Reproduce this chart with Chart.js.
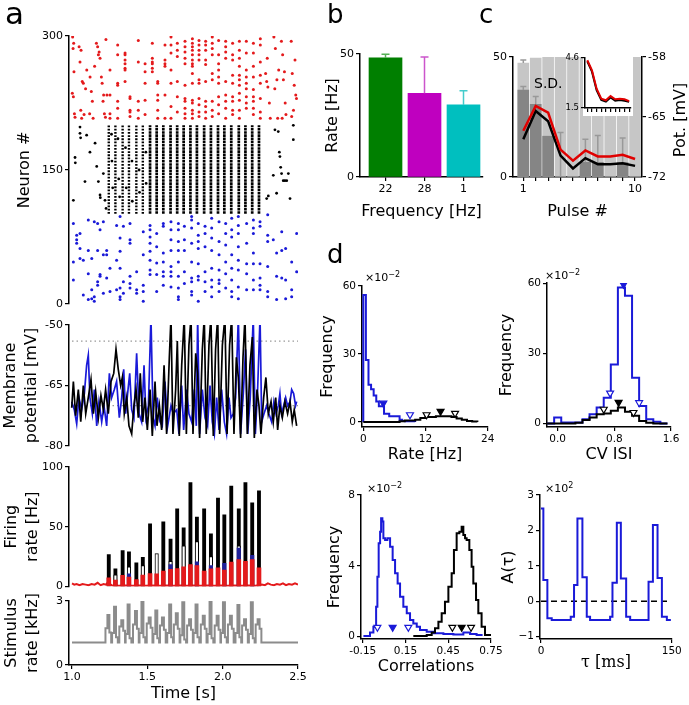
<!DOCTYPE html>
<html>
<head>
<meta charset="utf-8">
<script src="https://cdn.jsdelivr.net/npm/chart.js@4.4.1/dist/chart.umd.min.js"></script>
<style>
  body { margin: 0; width: 689px; height: 705px; position: relative; overflow: hidden; background: #fff;
         font-family: "DejaVu Sans", sans-serif; }
  canvas { position: absolute; }
  .lbl { position: absolute; color: #000; white-space: nowrap; line-height: 1; z-index: 10; }
  .lbl sup { font-size: 8px; vertical-align: 4px; }
</style>
</head>
<body>
<div class="lbl" style="left:5px;top:-2px;font-size:31px">a</div>
<div class="lbl" style="left:327px;top:1px;font-size:26px">b</div>
<div class="lbl" style="left:479px;top:1px;font-size:26px">c</div>
<div class="lbl" style="left:327px;top:241px;font-size:26px">d</div>
<div class="lbl" style="left:534px;top:76px;font-size:14px">S.D.</div>
<div class="lbl" style="left:680px;top:120px;font-size:16px;transform:translate(-50%,-50%) rotate(-90deg)">Pot. [mV]</div>
<div class="lbl" style="left:365px;top:271px;font-size:11px">×10<sup>−2</sup></div>
<div class="lbl" style="left:545px;top:269px;font-size:11px">×10<sup>−2</sup></div>
<div class="lbl" style="left:367px;top:482px;font-size:11px">×10<sup>−2</sup></div>
<div class="lbl" style="left:545px;top:482px;font-size:11px">×10<sup>2</sup></div>

<script>
// ---------- panel a : raster ----------
// stimulus pulse times (s), shared by raster stripes, firing rate and stimulus
const pulseT = [1.244, 1.288, 1.336, 1.378, 1.427, 1.470, 1.518, 1.562, 1.606, 1.654, 1.698, 1.741, 1.786,
                1.829, 1.877, 1.922, 1.969, 2.011, 2.057, 2.107, 2.151, 2.196, 2.241];
const stripeLo = 101, stripeHi = 200;

// sparse red spikes before / after stimulation [t, neuron]
const redSparse = [
  [1.004, 299], [1.011, 292], [1.007, 286], [1.013, 260], [1.002, 236], [1.009, 232], [1.016, 213], [1.020, 209],
  [1.047, 288], [1.060, 284], [1.053, 271], [1.068, 249], [1.075, 247], [1.058, 217], [1.080, 212], [1.064, 208],
  [1.120, 254], [1.128, 238], [1.135, 227], [1.117, 213], [1.140, 208], [1.098, 262], [1.090, 241],
  [1.162, 292], [1.170, 288], [1.180, 282], [1.175, 279], [1.186, 275], [1.195, 254], [1.200, 247],
  [1.210, 234], [1.206, 227], [1.215, 213], [1.222, 209], [1.232, 234], [1.150, 266], [1.225, 296],
  [2.285, 258], [2.292, 249], [2.300, 243], [2.310, 225], [2.316, 208], [2.296, 275],
  [2.340, 299], [2.350, 286], [2.360, 251], [2.346, 241], [2.365, 208], [2.372, 262],
  [2.390, 294], [2.398, 279], [2.410, 260], [2.403, 251], [2.415, 225], [2.420, 212], [2.395, 208],
  [2.455, 294], [2.480, 273], [2.462, 258], [2.475, 245], [2.485, 234], [2.490, 230], [2.470, 217], [2.458, 210]
];
// red spike columns during stimulation [t, neurons]
const redCols = [
  [1.252, [213, 208, 234, 262]], [1.303, [290, 279, 247, 245, 227, 219, 208]],
  [1.352, [281, 279, 273, 269, 264, 262, 249]], [1.385, [232, 230, 217, 215, 210]],
  [1.440, [295, 271, 227, 217, 208]], [1.485, [269, 260, 247, 228, 212]],
  [1.533, [292, 275, 271, 269, 264, 260]], [1.569, [249, 247, 234, 228, 217, 208]],
  [1.617, [290, 273, 269, 266, 234, 208]], [1.657, [299, 290, 281, 262, 247, 221, 208]],
  [1.699, [292, 284, 277, 249, 232, 215]], [1.750, [294, 288, 282, 275, 269, 245, 230, 227, 219, 213, 208]],
  [1.799, [297, 292, 288, 284, 279, 273, 269, 266, 258, 247, 228, 225, 217, 213, 208]],
  [1.843, [295, 290, 284, 279, 273, 251, 247, 230, 223, 215, 210]],
  [1.887, [294, 290, 284, 273, 268, 249, 227, 221, 215, 208]],
  [1.931, [299, 292, 286, 279, 258, 251, 227, 217, 210]],
  [1.973, [295, 279, 269, 262, 254, 247, 232, 223, 213]],
  [2.020, [294, 288, 282, 275, 249, 234, 227, 219, 208]],
  [2.066, [292, 279, 273, 256, 247, 232, 227, 217, 212]],
  [2.111, [294, 284, 275, 266, 256, 251, 245, 236, 228, 217, 208]],
  [2.157, [294, 281, 262, 254, 247, 241, 232, 225, 219]],
  [2.204, [292, 281, 266, 254, 240, 232, 227, 219, 212]],
  [2.250, [297, 290, 271, 256, 247, 230, 215, 208]]
];
// blue spike columns [t, neurons]
const blueCols = [
  [1.009, [90, 47, 27]], [1.031, [77, 72, 68]], [1.053, [79, 62, 51]], [1.075, [49, 10]],
  [1.108, [94, 60, 34, 5]], [1.131, [51, 16, 6]], [1.148, [92, 8, 3]], [1.170, [90, 60, 25, 21]],
  [1.186, [83, 33, 31]], [1.208, [92, 55, 12]], [1.230, [60, 55, 29]], [1.252, [40, 14]],
  [1.296, [88, 49, 16]], [1.319, [98, 74, 59, 40, 18, 8, 5]], [1.341, [87, 25, 12]],
  [1.385, [90, 72, 68, 31, 23, 18]], [1.429, [36, 16, 12]], [1.473, [81, 55, 21, 14, 3]],
  [1.518, [88, 83, 75, 68, 59, 49, 38, 33]], [1.562, [79, 64, 46, 33, 14]],
  [1.606, [90, 87, 57, 47, 36, 31, 21]], [1.657, [92, 83, 72, 60, 42, 36, 31, 19]],
  [1.706, [90, 83, 70, 60, 47, 31, 18, 8, 5]], [1.746, [87, 72, 60, 36, 23]],
  [1.794, [98, 94, 85, 68, 47, 29, 25, 14, 10]], [1.838, [90, 77, 70, 62, 45, 31, 27, 3]],
  [1.883, [87, 79, 64, 36, 25, 14]], [1.927, [96, 85, 74, 60, 40, 27, 19, 8]],
  [1.976, [92, 70, 55, 38, 27, 23, 14]], [2.020, [90, 79, 66, 47, 34, 18]],
  [2.060, [96, 83, 75, 55, 40, 27, 14, 8]], [2.104, [98, 88, 79, 64, 49, 38, 19, 6]],
  [2.159, [90, 68, 45, 34, 16]], [2.204, [94, 85, 79, 57, 45, 27, 16]],
  [2.248, [92, 87, 45, 29, 21, 16]], [2.299, [100, 77, 70, 42, 14, 8]], [2.336, [72]],
  [2.358, [57, 31, 5]], [2.392, [81, 60, 29]], [2.418, [62, 27, 6]], [2.458, [47, 16, 8]], [2.491, [79, 36]]
];
// scattered black spikes outside the synchronous stripes [t, neuron]
const blackSparse = [
  [1.009, 116], [1.020, 164], [1.022, 158], [1.053, 198], [1.053, 191], [1.057, 186], [1.086, 137],
  [1.097, 189], [1.119, 170], [1.153, 180], [1.164, 154], [1.175, 137], [1.186, 122], [1.188, 119],
  [1.208, 146], [1.219, 116], [1.226, 107], [1.262, 190], [1.265, 160], [1.270, 130], [1.305, 185],
  [1.310, 140], [1.316, 120], [1.355, 175], [1.360, 130], [1.398, 160], [1.400, 115], [1.445, 150],
  [1.448, 125], [1.490, 170], [1.492, 135],
  [2.292, 118], [2.303, 121], [2.336, 144], [2.347, 195], [2.358, 124], [2.369, 193], [2.376, 170],
  [2.380, 165], [2.385, 153], [2.391, 146], [2.402, 138], [2.413, 138], [2.425, 138], [2.436, 146],
  [2.447, 118], [2.469, 200], [2.469, 184]
];
const rasterTicks = [0, 150, 300], rasterTickLabels = ['0', '150', '300'];

// ---------- panel a : membrane potential [t, mV] ----------
const vmBlack = [
  [0.998, -70.5], [1.009, -64], [1.024, -72.5], [1.042, -66], [1.058, -74], [1.075, -65], [1.091, -72],
  [1.108, -68], [1.126, -63.5], [1.142, -72], [1.157, -66.5], [1.175, -73], [1.192, -67.5], [1.208, -71],
  [1.223, -66], [1.241, -72], [1.259, -64], [1.277, -62], [1.292, -56], [1.307, -61], [1.323, -65],
  [1.334, -63], [1.347, -72], [1.363, -68], [1.378, -75], [1.396, -77], [1.411, -70], [1.425, -66],
  [1.440, -73], [1.453, -62], [1.469, -74], [1.484, -68], [1.500, -76], [1.518, -66], [1.533, -77.5],
  [1.551, -64], [1.564, -75], [1.580, -70], [1.595, -76], [1.611, -60], [1.628, -77], [1.646, -58],
  [1.657, -48], [1.670, -77], [1.688, -66], [1.699, -54], [1.712, -77.5], [1.728, -60], [1.745, -48],
  [1.759, -77], [1.776, -55], [1.790, -48], [1.803, -77], [1.821, -57], [1.834, -62], [1.847, -78],
  [1.865, -56], [1.878, -48], [1.891, -77], [1.909, -55], [1.922, -48], [1.938, -77.5], [1.953, -56],
  [1.967, -48], [1.980, -77], [1.998, -55], [2.015, -48], [2.029, -77], [2.046, -55], [2.060, -48],
  [2.075, -77], [2.091, -58], [2.104, -63], [2.119, -78], [2.135, -58], [2.148, -48], [2.164, -77],
  [2.181, -60], [2.197, -53], [2.210, -78], [2.228, -66], [2.241, -70], [2.254, -77], [2.272, -68],
  [2.287, -63], [2.303, -72], [2.321, -69], [2.336, -74], [2.352, -68], [2.365, -76], [2.380, -70],
  [2.396, -73], [2.413, -69], [2.431, -72], [2.447, -69], [2.462, -74], [2.475, -71], [2.491, -75]
];
const vmBlue = [
  [0.998, -69], [1.015, -71], [1.031, -74.5], [1.046, -68], [1.064, -71], [1.082, -67], [1.097, -60],
  [1.108, -57.5], [1.119, -68], [1.135, -72], [1.148, -66], [1.164, -75], [1.179, -69], [1.197, -74],
  [1.212, -70], [1.230, -75], [1.248, -62], [1.263, -68], [1.281, -66], [1.296, -64], [1.314, -73],
  [1.330, -68], [1.343, -61], [1.356, -72], [1.369, -67], [1.383, -62], [1.396, -71], [1.411, -73],
  [1.429, -57], [1.445, -72], [1.462, -74], [1.478, -60], [1.491, -73], [1.507, -70], [1.524, -48],
  [1.538, -73], [1.551, -75], [1.566, -68], [1.584, -74], [1.599, -75], [1.617, -64], [1.635, -75],
  [1.657, -70], [1.672, -72], [1.695, -71], [1.710, -77], [1.728, -65], [1.741, -76], [1.761, -66],
  [1.776, -72], [1.794, -74], [1.812, -66], [1.825, -75], [1.834, -48], [1.847, -77], [1.865, -66],
  [1.883, -73], [1.900, -75], [1.916, -65], [1.931, -74], [1.945, -77], [1.960, -68], [1.976, -76],
  [1.993, -66], [2.011, -74], [2.026, -77], [2.042, -68], [2.055, -73], [2.071, -72], [2.086, -68],
  [2.104, -48], [2.119, -77], [2.137, -67], [2.152, -56], [2.166, -77], [2.183, -68], [2.203, -48],
  [2.217, -77], [2.232, -66], [2.248, -48], [2.259, -74], [2.274, -72], [2.292, -70], [2.307, -72],
  [2.325, -74], [2.340, -69], [2.354, -72], [2.369, -70], [2.380, -67], [2.391, -72], [2.405, -70],
  [2.418, -68], [2.431, -70], [2.447, -69], [2.458, -66], [2.471, -67], [2.484, -70], [2.491, -69]
];
const vmRefLines = [-54, -70];
const vmTicks = [-80, -65, -50], vmTickLabels = ['-80', '-65', '-50'];

// ---------- panel a : firing rate per pulse (Hz) ----------
const rateBlack = [26.7, 14.7, 30, 28.9, 19.7, 24.4, 52.5, 0, 54, 39.7, 65, 49, 87, 58, 65, 44, 74, 60, 84, 65, 87, 70, 80];
const rateOpen  = [0, 9.7, 0, 16.4, 0, 17.5, 0, 27.5, 0, 21, 0, 34, 0, 37.5, 0, 25, 0, 0, 0, 34, 0, 0, 0];
const rateBlue  = [0, 0, 0, 10.5, 0, 0, 0, 0, 0, 18.3, 0, 0, 0, 20.5, 0, 17.5, 0, 19.4, 0, 32, 0, 26, 0];
const rateRed   = [7.2, 5.3, 9.2, 7.8, 5.8, 9.4, 10.8, 10.5, 12.8, 14.2, 15, 16.4, 18.3, 17.5, 12.8, 14.7,
                   15.6, 13.6, 20.3, 22.5, 21, 22.5, 15.6];
const redLineT = [1.0, 1.015, 1.03, 1.05, 1.07, 1.09, 1.11, 1.13, 1.15, 1.17, 1.19, 1.21, 1.225, 1.236,
                  1.266, 1.31, 1.356, 1.40, 1.446, 1.49, 1.538, 1.584, 1.63, 1.675, 1.718, 1.762, 1.806,
                  1.852, 1.90, 1.945, 1.987, 2.031, 2.08, 2.126, 2.172, 2.218,
                  2.26, 2.28, 2.30, 2.32, 2.34, 2.36, 2.38, 2.40, 2.42, 2.44, 2.46, 2.48, 2.50];
const redLineV = [2.5, 1.5, 2, 1, 2, 1.5, 1, 2, 1.5, 3, 1, 2, 1.5, 3,
                  0.8, 0.6, 0.8, 0.6, 0.8, 0.6, 0.8, 0.6, 0.8, 0.6, 0.8, 0.6, 0.8,
                  0.6, 0.8, 0.6, 0.8, 0.6, 0.8, 0.6, 0.8, 0.6,
                  1.5, 1, 2.5, 1.5, 1, 2, 1.5, 2.5, 1, 2, 1.5, 2.5, 1.5];
const rateTicks = [0, 50, 100], rateTickLabels = ['0', '50', '100'];

// ---------- panel a : stimulus rate (kHz) ----------
const stimBase = 1.06;
const stimPeak = [2.34, 2.73, 2.1, 2.84, 2.53, 3.0, 2.23, 2.55, 2.23, 2.84, 2.42, 2.94, 2.14, 2.84, 2.31,
                  3.0, 2.31, 2.94, 2.31, 2.81, 2.14, 2.94, 2.14];
const stimShoulder = [1.72, 1.5, 1.8, 1.45, 1.9, 1.5, 1.95, 1.45, 1.85, 1.5, 1.9, 1.4, 1.85, 1.5, 1.9,
                      1.45, 1.85, 1.5, 1.9, 1.5, 1.85, 1.45, 1.9];
const stimTicks = [0, 3], stimTickLabels = ['0', '3'];
const timeTicks = [1.0, 1.5, 2.0, 2.5], timeTickLabels = ['1.0', '1.5', '2.0', '2.5'];

// ---------- panel b ----------
const freqLabels = ['22', '28', '1'];
const freqRate = [48.4, 34, 29.3];
const freqErr = [1.5, 14.8, 5.8];
const bTicks = [0, 50], bTickLabels = ['0', '50'];

// ---------- panel c ----------
const pulseNo = [1, 2, 3, 4, 5, 6, 7, 8, 9, 10];
const pulseLabels = ['1', '', '', '', '', '', '', '', '', '10'];
const sdLight = [47.5, 49.5, 50, 50, 50, 50, 50, 50, 50, 50];
const sdLightErr = [1.3, 0, 0, 0, 0, 0, 0, 0, 0, 0];
const sdDark = [36.2, 30.3, 17, 0, 0, 6.1, 6.1, 0, 6, 0];
const sdDarkErr = [1.5, 3.2, 0, 18.5, 0, 9.6, 11.2, 0, 10.3, 0];
const potRed = [-66.6, -63.7, -64.5, -68.8, -70.1, -68.9, -69.6, -69.6, -69.4, -69.9];
const potBlack = [-67.6, -64.3, -65.5, -69.5, -71, -69.8, -70.5, -70.5, -70.4, -70.7];
const insetRed = [4.46, 3.84, 2.7, 2.08, 1.98, 2.24, 2.04, 2.08, 2.04, 1.93];
const insetBlack = [4.4, 3.75, 2.6, 2.0, 1.9, 2.15, 1.95, 2.0, 1.95, 1.88];
const cTicks = [0, 50], cTickLabels = ['0', '50'];
const potTicks = [-72, -65, -58], potTickLabels = ['-72', '-65', '-58'];
const insetTicks = [1.5, 4.6], insetTickLabels = ['1.5', '4.6'];

// ---------- panel d : rate histogram ----------
const rateEdgesBlue = [0, 0.5, 1, 1.5, 2, 2.5, 3, 3.5, 4, 4.5, 5, 5.5, 6, 6.5, 7, 7.5, 8, 8.5, 9, 9.5, 10];
const rateHistBlue = [56, 27.4, 16.4, 14.5, 11.7, 9.1, 6.9, 6.9, 3.7, 3.7, 2.5, 2.5, 2.5, 2.5, 1.0, 0.5, 0.3, 0.3, 0.3, 0.3];
const rateEdgesBlack = [0, 7, 8, 9, 10, 11, 12, 13, 14, 15, 16, 17, 18, 19, 20, 21, 22];
const rateHistBlack = [0, 0.3, 0.7, 0.7, 1.0, 1.8, 2.2, 2.2, 2.5, 2.5, 2.5, 2.2, 1.5, 1.0, 0.5, 0.2];
const rateMarks = {blueOpen: [[9, 3.2]], blueFill: [[3.86, 8.3]], blackOpen: [[12.2, 3.2], [17.7, 3.8]], blackFill: [[14.9, 4.7]]};
const dRateXTicks = [0, 12, 24], dRateXLabels = ['0', '12', '24'];
const dFreqTicks = [0, 30, 60], dFreqLabels = ['0', '30', '60'];

// ---------- panel d : CV ISI histogram ----------
const cvEdges = [-0.15, -0.05, 0.05, 0.15, 0.25, 0.35, 0.45, 0.55, 0.65, 0.75, 0.85, 0.95, 1.05, 1.15, 1.25, 1.35, 1.45, 1.55];
const cvBlue = [0, 2.6, 0.4, 0.4, 0.4, 1.8, 4.0, 6.8, 11.0, 25.2, 58.2, 54.6, 19.6, 7.5, 1.8, 0.7, 0];
const cvBlack = [0, 0, 0, 0, 0.3, 1.5, 2.6, 4.0, 4.3, 5.4, 6.8, 5.0, 3.3, 1.1, 0.3, 0, 0];
const cvMarks = {blueOpen: [[0.74, 13], [1.15, 8.9]], blueFill: [[0.93, 59.5]], blackOpen: [[0.65, 6.1], [1.07, 4.7]], blackFill: [[0.86, 9]]};
const cvTicks = [0, 0.8, 1.6], cvTickLabels = ['0.0', '0.8', '1.6'];

// ---------- panel d : correlations ----------
const corrBlueX = [-0.145, -0.099, -0.075, -0.056, -0.047, -0.038, -0.028, -0.021, -0.012, -0.005, 0.007, 0.023,
                   0.042, 0.060, 0.077, 0.095, 0.112, 0.135, 0.159, 0.182, 0.205, 0.229, 0.252, 0.299, 0.346,
                   0.416, 0.486, 0.556, 0.603, 0.649, 0.684];
const corrBlueY = [0.04, 0.23, 0.56, 1.69, 3.39, 5.27, 5.93, 6.69, 6.5, 5.56, 5.46, 5.56,
                   5.08, 4.33, 3.58, 3.01, 2.26, 1.69, 1.32, 0.94, 0.75, 0.56, 0.38, 0.28, 0.19,
                   0.15, 0.13, 0.23, 0.15, 0.09, 0.04];
const corrBlackX = [0.205, 0.299, 0.334, 0.357, 0.381, 0.404, 0.427, 0.451, 0.474, 0.490, 0.509, 0.528,
                    0.544, 0.556, 0.568, 0.579, 0.598, 0.614, 0.626, 0.645, 0.661, 0.684, 0.708, 0.743];
const corrBlackY = [0.04, 0.09, 0.23, 0.47, 0.85, 1.32, 1.98, 2.82, 3.58, 4.9, 5.84, 5.93,
                    6.21, 5.74, 5.56, 5.46, 4.9, 3.95, 3.01, 2.07, 1.32, 0.56, 0.09, 0.04];
const corrMarks = {blueOpen: [[-0.047, 0.53], [0.17, 0.53]], blueFill: [[0.06, 0.53]], blackOpen: [[0.479, 0.53], [0.61, 0.53]], blackFill: [[0.544, 0.53]]};
const corrTicks = [-0.15, 0.15, 0.45, 0.75], corrTickLabels = ['-0.15', '0.15', '0.45', '0.75'];
const corrFreqTicks = [0, 4, 8], corrFreqLabels = ['0', '4', '8'];

// ---------- panel d : autocorrelation ----------
const tauEdges = [0, 2.7, 7.3, 12.3, 34.1, 37.9, 41.8, 47.5, 52.5, 56.3, 79.3, 82, 87, 91.6, 97.7, 102.3,
                  123.4, 128.4, 133.7, 138.7, 144.4, 149];
const acVals = [2.62, 0.6, -0.48, -0.53, -0.44, 0.46, 2.34, 0.68, -0.44, -0.53, -0.44, 0.52, 2.22, 0.64,
                -0.44, -0.53, 0.55, 2.15, 0.66, -0.44, -0.53];
const acZeroT = [0, 147];
const tauTicks = [0, 150], tauTickLabels = ['0', '150'];
const acTicks = [-1, 0, 1, 2, 3], acTickLabels = ['−1', '0', '1', '2', '3'];

// ---------------------------------------------------------------
const RED = '#e41a1c', BLUE = '#1a1ad8', NAVY = '#20209a';
Chart.defaults.font.family = '"DejaVu Sans", sans-serif';
Chart.defaults.color = '#000';
Chart.defaults.animation = false;
Chart.defaults.events = [];
Chart.defaults.plugins.legend.display = false;
Chart.defaults.plugins.tooltip.enabled = false;

// error bars drawn right after their own dataset
Chart.register({
  id: 'errorBars',
  afterDatasetDraw(chart, args) {
    const ds = chart.data.datasets[args.index];
    if (!ds.errors) return;
    const ctx = chart.ctx;
    const xs = chart.scales[args.meta.xAxisID], ys = chart.scales[args.meta.yAxisID];
    ctx.save();
    ds.data.forEach((d, i) => {
      const e = ds.errors[i];
      if (!e) return;
      const x = xs.getPixelForValue(d.x);
      const y0 = ys.getPixelForValue(d.y), y1 = ys.getPixelForValue(d.y + e);
      ctx.strokeStyle = Array.isArray(ds.errorColor) ? ds.errorColor[i] : ds.errorColor;
      ctx.lineWidth = 1.5;
      ctx.beginPath();
      ctx.moveTo(x, y0); ctx.lineTo(x, y1);
      ctx.moveTo(x - ds.capHalf, y1); ctx.lineTo(x + ds.capHalf, y1);
      ctx.stroke();
    });
    ctx.restore();
  }
});

function tickAxis(pos, min, max, vals, labels, size, extra) {
  return Object.assign({
    type: 'linear', position: pos, min: min, max: max, offset: false,
    border: {display: true, color: '#000', width: 1.5},
    grid: {drawOnChartArea: false, drawTicks: true, tickLength: 4, color: '#000', lineWidth: 1.2, offset: false},
    ticks: {font: {size: size}, color: '#000', padding: 2, autoSkip: false, maxRotation: 0,
            callback: v => { const i = vals.indexOf(v); return i < 0 ? '' : labels[i]; }},
    afterBuildTicks: s => { s.ticks = vals.map(v => ({value: v})); }
  }, extra || {});
}
function hidden(min, max) { return {type: 'linear', display: false, min: min, max: max, offset: false}; }
function ytitle(lines, cx, boxX, family) {
  return {display: true, text: lines, font: {size: 16, lineHeight: 1.3, family: family}, padding: {top: cx - boxX - 10.4, bottom: 0}};
}
function xtitle(text, cy, boxBottom, family) {
  return {display: true, text: text, font: {size: 16, lineHeight: 1.3, family: family}, padding: {top: 0, bottom: boxBottom - 10.4 - cy}};
}

// put a chart so that its plot area lands on `area` (page pixels)
function place(box, area, cfg, plugins) {
  const c = document.createElement('canvas');
  c.width = box.w; c.height = box.h;
  Object.assign(c.style, {left: box.x + 'px', top: box.y + 'px', width: box.w + 'px', height: box.h + 'px'});
  document.body.appendChild(c);
  const pad = {left: area.l - box.x, top: area.t - box.y, right: box.x + box.w - area.r, bottom: box.y + box.h - area.b};
  Object.values(cfg.options.scales).forEach(s => {
    if (s.display === false) return;
    const size = pad[s.position];
    if (s.position === 'left' || s.position === 'right') s.afterFit = sc => { sc.width = size; };
    else s.afterFit = sc => { sc.height = size; };
    pad[s.position] = 0;
  });
  cfg.options.layout = {padding: pad};
  cfg.options.responsive = false;
  cfg.options.maintainAspectRatio = false;
  if (plugins) cfg.plugins = plugins;
  return new Chart(c, cfg);
}

const xy = arr => arr.map(([x, y]) => ({x: x, y: y}));
function stripeLine(times) {
  const pts = [];
  times.forEach(t => pts.push({x: t, y: stripeLo}, {x: t, y: stripeHi}, {x: t, y: null}));
  return pts;
}
function histPts(edges, vals) {
  const pts = [{x: edges[0], y: 0}];
  vals.forEach((v, i) => pts.push({x: edges[i], y: v}));
  pts.push({x: edges[edges.length - 1], y: vals[vals.length - 1]}, {x: edges[edges.length - 1], y: 0});
  return pts;
}
function marks(pts, color, filled) {
  return {type: 'line', showLine: false, data: xy(pts), pointStyle: 'triangle', pointRotation: 180,
          pointRadius: 4, pointBorderWidth: 1.2, pointBorderColor: color,
          pointBackgroundColor: filled ? color : '#fff'};
}
function markSet(m) {
  return [marks(m.blackFill, '#000', true), marks(m.blackOpen, '#000', false),
          marks(m.blueFill, BLUE, true), marks(m.blueOpen, BLUE, false)];
}
const stepLine = (data, color) => ({type: 'line', data: data, stepped: 'before', borderColor: color,
                                     borderWidth: 2, pointRadius: 0, fill: false});

// ---- a: raster
const redPts = xy(redSparse).concat(redCols.flatMap(([t, ns]) => ns.map(n => ({x: t, y: n}))));
const bluePts = blueCols.flatMap(([t, ns]) => ns.map(n => ({x: t, y: n})));
place({x: 0, y: 26, w: 312, h: 288}, {l: 69, t: 36, r: 298, b: 304}, {
  type: 'scatter',
  data: {datasets: [
    {data: redPts, backgroundColor: RED, pointRadius: 1.5, borderWidth: 0},
    {data: bluePts, backgroundColor: BLUE, pointRadius: 1.5, borderWidth: 0},
    {data: xy(blackSparse), backgroundColor: '#000', pointRadius: 1.4, borderWidth: 0},
    {type: 'line', data: stripeLine(pulseT.slice(6)), borderColor: '#000', borderWidth: 2.7,
     borderDash: [2.6, 0.6], pointRadius: 0, spanGaps: false},
    {type: 'line', data: stripeLine(pulseT.slice(0, 6)), borderColor: '#000', borderWidth: 2.4,
     borderDash: [1.8, 1.4], pointRadius: 0, spanGaps: false}
  ]},
  options: {scales: {
    x: hidden(0.98, 2.5),
    y: tickAxis('left', 0, 300, rasterTicks, rasterTickLabels, 11, {title: ytitle('Neuron #', 24.5, 0)})
  }}
});

// ---- a: membrane potential
place({x: 0, y: 315, w: 312, h: 140}, {l: 69, t: 325, r: 298, b: 446}, {
  type: 'line',
  data: {datasets: [
    {data: xy(vmBlack), borderColor: '#000', borderWidth: 1.7, pointRadius: 0},
    {data: xy(vmBlue), borderColor: BLUE, borderWidth: 1.7, pointRadius: 0}
  ].concat(vmRefLines.map(v => ({data: [{x: 1.0, y: v}, {x: 2.5, y: v}], borderColor: '#999',
                                 borderWidth: 1.2, borderDash: [1.5, 3], pointRadius: 0})))},
  options: {scales: {
    x: hidden(0.98, 2.5),
    y: tickAxis('left', -80, -50, vmTicks, vmTickLabels, 11, {title: ytitle(['Membrane', 'potential [mV]'], 11, 0)})
  }}
});

// ---- a: firing rate
const perPulse = vals => pulseT.map((t, i) => ({x: t, y: vals[i]})).filter(p => p.y > 0);
place({x: 0, y: 457, w: 312, h: 138}, {l: 69, t: 467, r: 298, b: 587}, {
  type: 'bar',
  data: {datasets: [
    {data: perPulse(rateRed), backgroundColor: RED, barThickness: 4, grouped: false},
    {data: perPulse(rateBlue), backgroundColor: NAVY, barThickness: 3.5, grouped: false},
    {data: perPulse(rateOpen), backgroundColor: '#fff', borderColor: '#000', borderWidth: 1, barThickness: 3.5, grouped: false},
    {data: perPulse(rateBlack), backgroundColor: '#000', barThickness: 3.2, grouped: false},
    {type: 'line', data: redLineT.map((t, i) => ({x: t, y: redLineV[i]})), borderColor: RED, borderWidth: 2, pointRadius: 0}
  ]},
  options: {scales: {
    x: hidden(0.98, 2.5),
    y: tickAxis('left', 0, 100, rateTicks, rateTickLabels, 11, {title: ytitle(['Firing', 'rate [Hz]'], 12, 0)})
  }}
});

// ---- a: stimulus
const stimPts = [{x: 1.0, y: stimBase}];
pulseT.forEach((p, i) => {
  stimPts.push({x: p - 0.022, y: stimShoulder[i]}, {x: p - 0.009, y: stimPeak[i]},
               {x: p + 0.004, y: stimShoulder[i] - 0.2}, {x: p + 0.016, y: stimBase});
});
stimPts.push({x: 2.5, y: stimBase});
place({x: 0, y: 591, w: 312, h: 114}, {l: 69, t: 601, r: 298, b: 665}, {
  type: 'line',
  data: {datasets: [{data: stimPts, stepped: 'before', borderColor: '#8c8c8c', borderWidth: 2, pointRadius: 0}]},
  options: {scales: {
    x: tickAxis('bottom', 0.98, 2.5, timeTicks, timeTickLabels, 11, {title: xtitle('Time [s]', 694, 705)}),
    y: tickAxis('left', 0, 3, stimTicks, stimTickLabels, 11, {title: ytitle(['Stimulus', 'rate [kHz]'], 12, 0)})
  }}
});

// ---- b
place({x: 300, y: 40, w: 190, h: 183}, {l: 360, t: 54, r: 483, b: 177}, {
  type: 'bar',
  data: {datasets: [{
    data: freqRate.map((v, i) => ({x: i, y: v})),
    backgroundColor: ['#007f00', '#bf00bf', '#00bfbf'], barThickness: 33, grouped: false,
    errors: freqErr, errorColor: ['#55b055', '#cc55cc', '#44cccc'], capHalf: 4
  }]},
  options: {scales: {
    x: tickAxis('bottom', -0.654, 2.5, [0, 1, 2], freqLabels, 11, {title: xtitle('Frequency [Hz]', 212, 223)}),
    y: tickAxis('left', 0, 50, bTicks, bTickLabels, 11, {title: ytitle('Rate [Hz]', 333, 300)})
  }}
});

// ---- c
const byPulse = vals => pulseNo.map((p, i) => ({x: p, y: vals[i]}));
place({x: 480, y: 40, w: 209, h: 183}, {l: 513, t: 57, r: 642, b: 177}, {
  type: 'bar',
  data: {datasets: [
    {type: 'line', data: byPulse(potRed), yAxisID: 'y2', borderColor: '#e00000', borderWidth: 2.5, pointRadius: 0},
    {type: 'line', data: byPulse(potBlack), yAxisID: 'y2', borderColor: '#000', borderWidth: 2.5, pointRadius: 0},
    {data: byPulse(sdDark), backgroundColor: '#858585', barThickness: 11, grouped: false,
     errors: sdDarkErr, errorColor: '#999', capHalf: 3},
    {data: byPulse(sdLight), backgroundColor: '#c6c6c6', barThickness: 11, grouped: false,
     errors: sdLightErr, errorColor: '#999', capHalf: 3}
  ]},
  options: {scales: {
    x: tickAxis('bottom', 0.17, 10.56, pulseNo, pulseLabels, 11, {title: xtitle('Pulse #', 212, 223)}),
    y: tickAxis('left', 0, 50, cTicks, cTickLabels, 11),
    y2: tickAxis('right', -72, -58, potTicks, potTickLabels, 11)
  }}
});

// ---- c: inset
place({x: 560, y: 50, w: 80, h: 72}, {l: 585, t: 58, r: 631, b: 108}, {
  type: 'line',
  data: {datasets: [
    {data: byPulse(insetRed), borderColor: '#e00000', borderWidth: 2, pointRadius: 0},
    {data: byPulse(insetBlack), borderColor: '#000', borderWidth: 2, pointRadius: 0}
  ]},
  options: {scales: {
    x: tickAxis('bottom', 0.5, 10.4, pulseNo, pulseNo.map(() => ''), 8),
    y: tickAxis('left', 1.5, 4.6, insetTicks, insetTickLabels, 8.5)
  }}
}, [{id: 'insetBg', beforeDraw(chart) {
  const a = chart.chartArea, ctx = chart.ctx;
  ctx.save(); ctx.fillStyle = '#fff';
  ctx.fillRect(a.left - 2, a.top - 3, a.right - a.left + 4, a.bottom - a.top + 11);
  ctx.restore();
}}]);

// ---- d: rate
place({x: 300, y: 268, w: 200, h: 198}, {l: 362, t: 286, r: 488, b: 427}, {
  type: 'line',
  data: {datasets: markSet(rateMarks).concat([
    stepLine(histPts(rateEdgesBlack, rateHistBlack), '#000'),
    stepLine(histPts(rateEdgesBlue, rateHistBlue), BLUE)
  ])},
  options: {scales: {
    x: tickAxis('bottom', -0.25, 24.05, dRateXTicks, dRateXLabels, 10.5, {title: xtitle('Rate [Hz]', 455, 466)}),
    y: tickAxis('left', -2.2, 60, dFreqTicks, dFreqLabels, 10.5, {title: ytitle('Frequency', 327.5, 300)})
  }}
});

// ---- d: CV ISI
place({x: 490, y: 268, w: 199, h: 198}, {l: 547, t: 283, r: 671, b: 427}, {
  type: 'line',
  data: {datasets: markSet(cvMarks).concat([
    stepLine(histPts(cvEdges, cvBlack), '#000'),
    stepLine(histPts(cvEdges, cvBlue), BLUE)
  ])},
  options: {scales: {
    x: tickAxis('bottom', -0.151, 1.6, cvTicks, cvTickLabels, 10.5, {title: xtitle('CV ISI', 455, 466)}),
    y: tickAxis('left', -1.5, 60.1, dFreqTicks, dFreqLabels, 10.5, {title: ytitle('Frequency', 506.5, 490)})
  }}
});

// ---- d: correlations
place({x: 300, y: 480, w: 205, h: 198}, {l: 361, t: 495, r: 491, b: 639}, {
  type: 'line',
  data: {datasets: markSet(corrMarks).concat([
    stepLine(corrBlackX.map((x, i) => ({x: x, y: corrBlackY[i]})), '#000'),
    stepLine(corrBlueX.map((x, i) => ({x: x, y: corrBlueY[i]})), BLUE)
  ])},
  options: {scales: {
    x: tickAxis('bottom', -0.162, 0.75, corrTicks, corrTickLabels, 10.5, {title: xtitle('Correlations', 666.7, 678)}),
    y: tickAxis('left', -0.13, 8, corrFreqTicks, corrFreqLabels, 10.5, {title: ytitle('Frequency', 335, 300)})
  }}
});

// ---- d: autocorrelation
place({x: 490, y: 480, w: 199, h: 198}, {l: 540, t: 495, r: 672, b: 639}, {
  type: 'line',
  data: {datasets: [
    stepLine(tauEdges.map((t, i) => ({x: t, y: i < acVals.length ? acVals[i] : acVals[acVals.length - 1]})), BLUE),
    {data: acZeroT.map(t => ({x: t, y: 0})), borderColor: '#000', borderWidth: 1.5, borderDash: [6, 4], pointRadius: 0}
  ]},
  options: {scales: {
    x: tickAxis('bottom', -1.15, 150.3, tauTicks, tauTickLabels, 10.5,
                {title: xtitle('τ [ms]', 663, 678, '"DejaVu Serif", serif')}),
    y: tickAxis('left', -1.065, 3, acTicks, acTickLabels, 10.5, {title: ytitle('A(τ)', 509, 490)})
  }}
});
</script>
</body>
</html>
